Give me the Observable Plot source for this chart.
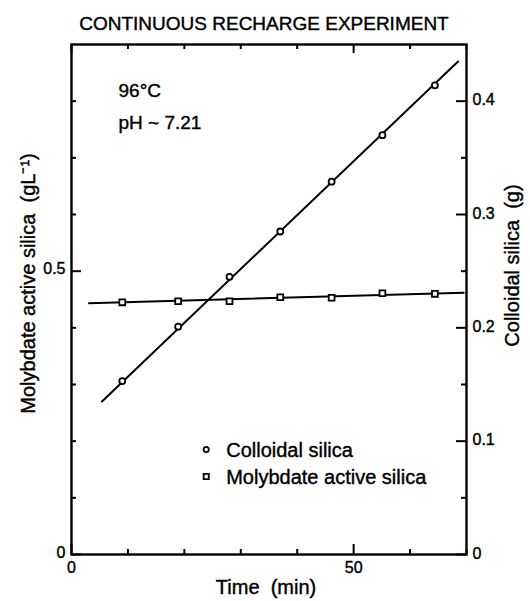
<!DOCTYPE html>
<html><head><meta charset="utf-8">
<script src="https://cdn.jsdelivr.net/npm/d3@7"></script>
<script src="https://cdn.jsdelivr.net/npm/@observablehq/plot@0.6"></script>
<style>
body{margin:0;background:#fff;}
#wrap{width:530px;height:601px;position:relative;font-family:"Liberation Sans",Arial,sans-serif;color:#000;}
#title{height:36px;box-sizing:border-box;padding-top:14px;padding-right:2px;line-height:19px;font-size:19px;text-align:center;white-space:nowrap;-webkit-text-stroke:0.4px #000;}
#chart{position:relative;width:530px;height:565px;}
#chart svg{position:absolute;left:0;top:0;}
#chart svg text{stroke:#000;stroke-width:0.4px;}
</style></head>
<body><div id="wrap"><div id="title">CONTINUOUS RECHARGE EXPERIMENT</div><div id="chart"></div></div>
<script>
// ---- data ----
const time = [9.0, 18.9, 28.0, 37.0, 46.1, 55.1, 64.4];                 // min
const colloidalSilica = [0.153, 0.201, 0.245, 0.285, 0.329, 0.370, 0.414]; // g (right axis)
const molybdateSilica = [0.445, 0.447, 0.447, 0.454, 0.453, 0.461, 0.460]; // g/L (left axis)
const colloidalFitTime = [5.4, 68.5];
const colloidalFit = [0.135, 0.435];
const molybdateFitTime = [3.1, 69.5];
const molybdateFit = [0.4435, 0.4618];
const xTicks = [0, 10, 20, 30, 40, 50, 60, 70];
const xTickLabels = [0, 50];
const leftTicks = [0, 0.1, 0.2, 0.3, 0.4, 0.5, 0.6, 0.7, 0.8];
const leftTickLabels = [0, 0.5];
const rightTicks = [0, 0.05, 0.1, 0.15, 0.2, 0.25, 0.3, 0.35, 0.4];
const rightTickLabels = [0, 0.1, 0.2, 0.3, 0.4];
const xTitle = "Time  (min)";
const leftTitle = "Molybdate active silica  (gL\u207B\u00B9)";
const rightTitle = "Colloidal silica  (g)";
const annotation = ["96°C", "pH ~ 7.21"];
const legendLabels = ["Colloidal silica", "Molybdate active silica"];

// ---- layout ----
const FONT = '"Liberation Sans", Arial, sans-serif';
const width = 530, height = 565;
const mL = 71, mR = 64, mT = 8, mB = 47;
const W = width - mL - mR, H = height - mT - mB;
const fmt = d => d === 0 ? "0" : d3.format(".1f")(d);
const base = {
  width, height, marginLeft: mL, marginRight: mR, marginTop: mT, marginBottom: mB,
  x: {domain: [0, 70]},
  style: {background: "transparent", fontFamily: FONT, fontSize: "16px", color: "black", overflow: "visible"}
};

const mRows = time.map((t, i) => ({t, v: molybdateSilica[i]}));
const cRows = time.map((t, i) => ({t, v: colloidalSilica[i]}));
const mFit = molybdateFitTime.map((t, i) => ({t, v: molybdateFit[i]}));
const cFit = colloidalFitTime.map((t, i) => ({t, v: colloidalFit[i]}));

const isMajorX = d => xTickLabels.includes(d);
const isMajorL = d => leftTickLabels.includes(d);
const isMajorR = d => rightTickLabels.includes(d);
const TK = {stroke: "black", strokeWidth: 2};

const main = Plot.plot({
  ...base,
  y: {domain: [0, 0.9]},
  marks: [
    Plot.frame({stroke: "black", strokeWidth: 2.4}),
    // bottom ticks (inward)
    Plot.tickX(xTicks.filter(d => !isMajorX(d)), {x: d => d, insetTop: H - 5, ...TK}),
    Plot.tickX(xTicks.filter(isMajorX), {x: d => d, insetTop: H - 10, ...TK}),
    // top ticks (inward)
    Plot.tickX(xTicks.filter(d => !isMajorX(d)), {x: d => d, insetBottom: H - 5, ...TK}),
    Plot.tickX(xTicks.filter(isMajorX), {x: d => d, insetBottom: H - 9, ...TK}),
    // left ticks (inward)
    Plot.tickY(leftTicks.filter(d => !isMajorL(d)), {y: d => d, insetRight: W - 5, ...TK}),
    Plot.tickY(leftTicks.filter(isMajorL), {y: d => d, insetRight: W - 10, ...TK}),
    Plot.axisX(xTickLabels, {anchor: "bottom", tickSize: 0, tickPadding: 7, fontSize: 16, tickFormat: d => String(d), label: null}),
    Plot.axisY(leftTickLabels, {anchor: "left", tickSize: 0, tickPadding: 6, dy: -2, fontSize: 16, tickFormat: fmt, label: null}),
    // axis titles
    Plot.text([xTitle], {frameAnchor: "bottom", textAnchor: "middle", dx: -3, dy: 39, lineAnchor: "bottom", fontSize: 20}),
    Plot.text([leftTitle], {frameAnchor: "left", textAnchor: "middle", lineAnchor: "middle", rotate: -90, dx: -43, dy: -16, fontSize: 20}),
    // molybdate series
    Plot.line(mFit, {x: "t", y: "v", stroke: "black", strokeWidth: 2}),
    Plot.dot(mRows, {x: "t", y: "v", symbol: "square", r: 3.3, stroke: "black", fill: "white", strokeWidth: 1.8}),
    // annotation
    ...annotation.map((s, i) => Plot.text([s], {frameAnchor: "top-left", dx: 47, dy: [52.7, 84.3][i], lineAnchor: "bottom", textAnchor: "start", fontSize: 19})),
    // legend
    Plot.dot([legendLabels[0]], {frameAnchor: "top-left", dx: 134.7, dy: 405, r: 2.6, stroke: "black", fill: "white", strokeWidth: 1.8}),
    Plot.dot([legendLabels[1]], {frameAnchor: "top-left", dx: 134.7, dy: 432, symbol: "square", r: 2.9, stroke: "black", fill: "white", strokeWidth: 1.8}),
    ...legendLabels.map((s, i) => Plot.text([s], {frameAnchor: "top-left", dx: 154.7, dy: [412, 439][i], lineAnchor: "bottom", textAnchor: "start", fontSize: 20}))
  ]
});

const overlay = Plot.plot({
  ...base,
  x: {domain: [0, 70], axis: null},
  y: {domain: [0, 0.45]},
  marks: [
    // right ticks (inward)
    Plot.tickY(rightTicks.filter(d => !isMajorR(d)), {y: d => d, insetLeft: W - 5, ...TK}),
    Plot.tickY(rightTicks.filter(isMajorR), {y: d => d, insetLeft: W - 10, ...TK}),
    Plot.axisY(rightTickLabels, {anchor: "right", tickSize: 0, tickPadding: 6, dy: -1, fontSize: 16, tickFormat: fmt, label: null}),
    Plot.text([rightTitle], {frameAnchor: "right", textAnchor: "middle", lineAnchor: "middle", rotate: -90, dx: 46, dy: -34, fontSize: 20}),
    // colloidal series
    Plot.line(cFit, {x: "t", y: "v", stroke: "black", strokeWidth: 2}),
    Plot.dot(cRows, {x: "t", y: "v", r: 3, stroke: "black", fill: "white", strokeWidth: 1.8})
  ]
});

const chart = document.getElementById("chart");
chart.appendChild(main);
chart.appendChild(overlay);
</script>
</body></html>
